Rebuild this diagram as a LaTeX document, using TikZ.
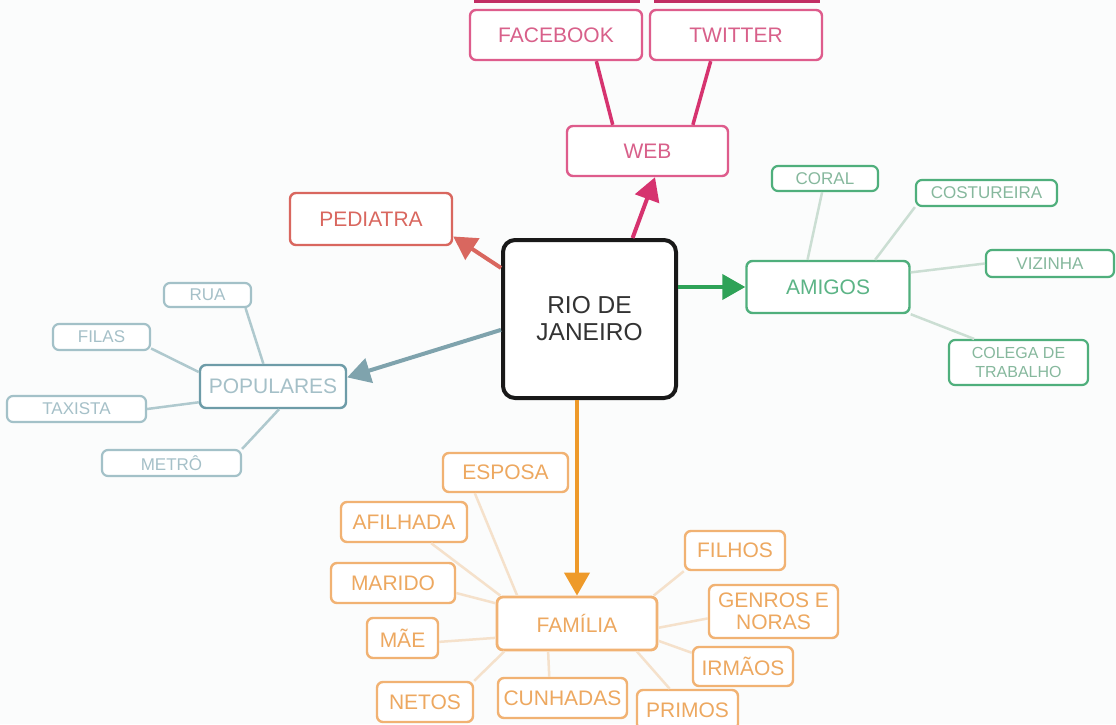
\documentclass[tikz,border=0pt]{standalone}
\usepackage{fontspec}
\setmainfont{Liberation Sans}
\usetikzlibrary{arrows.meta}
\definecolor{bgcolor}{HTML}{FBFCFC}
\definecolor{webcolor}{HTML}{D6336F}
\definecolor{webtext}{HTML}{D8608A}
\definecolor{pedcolor}{HTML}{D9675F}
\definecolor{amicolor}{HTML}{2EA257}
\definecolor{amibox}{HTML}{4FAF7C}
\definecolor{amitext}{HTML}{5CB486}
\definecolor{amisubtext}{HTML}{86B89D}
\definecolor{amisubline}{HTML}{CBDED3}
\definecolor{popcolor}{HTML}{7FA3AD}
\definecolor{popbox}{HTML}{6E9CA8}
\definecolor{poptext}{HTML}{A5C0C8}
\definecolor{popsubbox}{HTML}{A3C1C8}
\definecolor{popsubline}{HTML}{AFC9CE}
\definecolor{famcolor}{HTML}{EE9A2A}
\definecolor{fambox}{HTML}{F1B273}
\definecolor{famtext}{HTML}{EDA860}
\definecolor{famsubline}{HTML}{F5E1CB}

\begin{document}
\begin{tikzpicture}[x=1pt, y=-1pt,
  box/.style={draw, fill=white, rounded corners=6pt, inner sep=0pt, align=center,
    line width=2.4pt, font=\fontsize{21}{24}\selectfont},
  size/.style 2 args={minimum width=#1pt, minimum height=#2pt},
  webbox/.style={box, draw=webcolor!80, text=webtext},
  amileaf/.style={box, draw=amibox, text=amisubtext, line width=2.2pt, font=\fontsize{17}{19}\selectfont},
  popleaf/.style={box, draw=popsubbox, text=poptext, line width=2.2pt, font=\fontsize{17}{19}\selectfont},
  famleaf/.style={box, draw=fambox, text=famtext},
  mainarrow/.style={line width=4pt, -{Triangle[length=23pt, width=25pt]}},
  leafline/.style={line width=2.5pt}]

  % Page: 1116 by 724, one unit per pixel of the reference.
  \fill[bgcolor] (0,0) rectangle (1116,724);
  \useasboundingbox (0,0) rectangle (1116,724);

  % Centre of the map.
  \node[box, size={173}{158}, rounded corners=12pt, line width=4pt, draw=black!90,
    text=black!80, font=\fontsize{24.5}{27}\selectfont] (rio) at (589.5,319) {RIO DE\\JANEIRO};

  % Web branch.
  \draw[webcolor!90!black, line width=3pt] (474,1.5) -- (640,1.5) (654,1.5) -- (820,1.5);
  \node[webbox, size={172}{50}] (facebook) at (556,35) {FACEBOOK};
  \node[webbox, size={172}{50}] (twitter) at (736,35) {TWITTER};
  \node[webbox, size={161}{50}] (web) at (647.5,151) {WEB};

  % Pediatra branch.
  \node[box, size={162}{52}, draw=pedcolor, text=pedcolor] (pediatra) at (371,219) {PEDIATRA};

  % Amigos branch.
  \node[box, size={163}{52}, draw=amibox, text=amitext] (amigos) at (828,287) {AMIGOS};
  \node[amileaf, size={106}{25}] (coral) at (825,178.5) {CORAL};
  \node[amileaf, size={141}{26}] (costureira) at (986.5,193) {COSTUREIRA};
  \node[amileaf, size={128}{27}] (vizinha) at (1050,263.5) {VIZINHA};
  \node[amileaf, size={139}{45}, font=\fontsize{16}{19}\selectfont] (colega) at (1018.5,362.5) {COLEGA DE\\TRABALHO};

  % Populares branch.
  \node[box, size={146}{43}, draw=popbox, text=poptext] (populares) at (273,386.5) {POPULARES};
  \node[popleaf, size={87}{24}] (rua) at (207.5,295) {RUA};
  \node[popleaf, size={97}{26}] (filas) at (101.5,337) {FILAS};
  \node[popleaf, size={139}{26}] (taxista) at (76.5,409) {TAXISTA};
  \node[popleaf, size={139}{26}] (metro) at (171.5,463) {METRÔ};

  % Familia branch.
  \node[famleaf, size={160}{53}, line width=2.8pt] (familia) at (577,623.5) {FAMÍLIA};
  \node[famleaf, size={125}{39}] (esposa) at (505.5,472.5) {ESPOSA};
  \node[famleaf, size={126}{40}] (afilhada) at (404,522) {AFILHADA};
  \node[famleaf, size={124}{40}] (marido) at (393,583) {MARIDO};
  \node[famleaf, size={71}{40}] (mae) at (402.5,638) {MÃE};
  \node[famleaf, size={96}{40}] (netos) at (425,702) {NETOS};
  \node[famleaf, size={129}{40}] (cunhadas) at (562.5,698) {CUNHADAS};
  \node[famleaf, size={101}{40}] (primos) at (687.5,710) {PRIMOS};
  \node[famleaf, size={100}{39}] (irmaos) at (743,666.5) {IRMÃOS};
  \node[famleaf, size={129}{53}, font=\fontsize{21}{22}\selectfont] (genros) at (773.5,611.5) {GENROS E\\NORAS};
  \node[famleaf, size={100}{39}] (filhos) at (735,550.5) {FILHOS};

  % Arrows out of the centre.
  \draw[mainarrow, webcolor] (rio.62) -- (web.-74);
  \draw[mainarrow, pedcolor] (rio.150) -- (pediatra.-12);
  \draw[mainarrow, amicolor] (rio.east |- amigos.west) -- (amigos.west);
  \draw[mainarrow, popcolor] (rio.187) -- (populares.7);
  \draw[mainarrow, famcolor] (rio.south -| familia.north) -- (familia.north);

  % Lines to the leaves.
  \draw[webcolor, line width=3.5pt] (facebook.-33) -- (web.143);
  \draw[webcolor, line width=3.5pt] (twitter.-134) -- (web.30);
  \foreach \a/\b in {coral.-102/amigos.127, costureira.south west/amigos.30,
      vizinha.west/amigos.10, colega.152/amigos.south east}
    \draw[leafline, amisubline] (\a) -- (\b);
  \foreach \a/\b in {rua.-19/populares.113, filas.-13/populares.169,
      taxista.east/populares.-168, metro.north east/populares.-75}
    \draw[leafline, popsubline] (\a) -- (\b);
  \foreach \a/\b in {esposa.-146/familia.155, afilhada.-38/familia.160,
      marido.-9/familia.166, mae.-6/familia.-170, netos.north east/familia.-159,
      cunhadas.122/familia.-136, primos.130/familia.-25, irmaos.165/familia.-12,
      genros.-174/familia.-3, filhos.south west/familia.20}
    \draw[leafline, famsubline] (\a) -- (\b);

\end{tikzpicture}
\end{document}
